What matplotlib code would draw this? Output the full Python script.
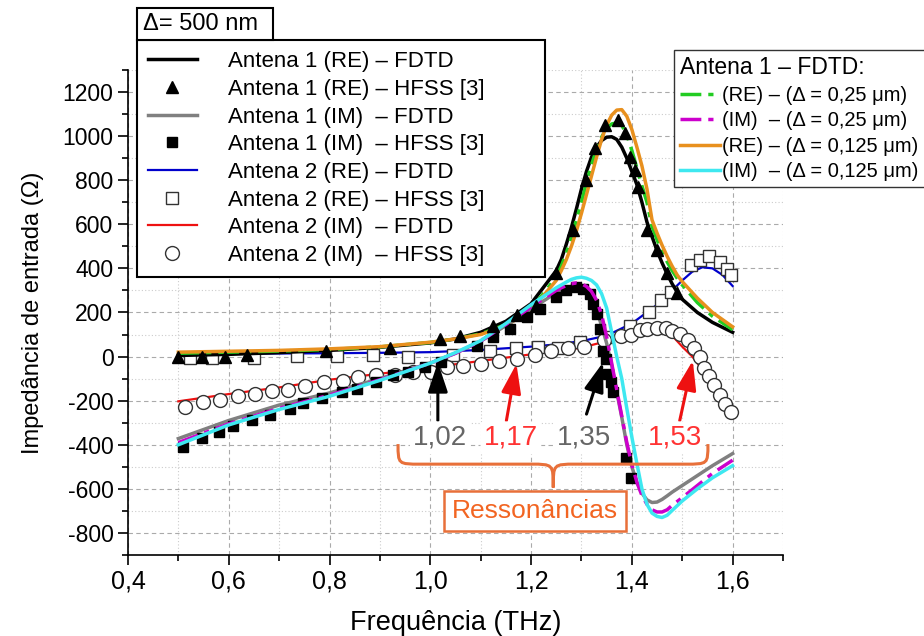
import numpy as np
import matplotlib.pyplot as plt
from matplotlib.path import Path
from matplotlib.patches import PathPatch, Rectangle
from matplotlib.ticker import MultipleLocator, FuncFormatter

plt.rcParams['font.family'] = ['Liberation Sans', 'DejaVu Sans']

# Antena 1 (RE) - FDTD
f_a1 = [0.5, 0.6, 0.7, 0.8, 0.9, 1.0, 1.05, 1.1, 1.15, 1.2, 1.25, 1.26, 1.27, 1.28,
        1.29, 1.3, 1.31, 1.32, 1.33, 1.34, 1.35, 1.36, 1.37, 1.38, 1.39, 1.4, 1.41,
        1.42, 1.43, 1.44, 1.45, 1.46, 1.47, 1.48, 1.49, 1.5, 1.53, 1.56, 1.6]
# malha 500 nm
re_a1 = [5, 10, 18, 28, 42, 62, 80, 110, 160, 240, 390, 440, 510, 585,
         670, 760, 840, 905, 950, 980, 995, 997, 985, 950, 900, 840, 780,
         700, 610, 545, 480, 425, 375, 330, 292, 260, 200, 155, 110]
# delta 0,25 um
re_a1_025 = [15, 20, 25, 32, 44, 64, 80, 103, 145, 215, 360, 410, 470, 540,
             620, 700, 790, 870, 940, 995, 1035, 1055, 1060, 1050, 1005, 935, 855,
             775, 700, 590, 530, 475, 430, 390, 355, 325, 245, 183, 122]
# delta 0,125 um
re_a1_0125 = [20, 24, 28, 35, 45, 65, 80, 100, 140, 210, 345, 390, 440, 500,
              570, 650, 735, 820, 905, 985, 1050, 1095, 1118, 1120, 1090, 1030, 950,
              865, 760, 620, 560, 505, 455, 410, 370, 340, 265, 200, 135]

# Antena 1 (IM) - FDTD
f_im = [0.5, 0.6, 0.7, 0.8, 0.9, 1.0, 1.05, 1.1, 1.15, 1.2, 1.25, 1.26, 1.27, 1.28,
        1.29, 1.3, 1.31, 1.32, 1.33, 1.34, 1.35, 1.36, 1.37, 1.38, 1.39, 1.4, 1.41,
        1.42, 1.43, 1.44, 1.45, 1.46, 1.47, 1.48, 1.5, 1.53, 1.56, 1.6]
im_a1 = [-372, -290, -220, -165, -100, -30, 15, 70, 140, 215, 290, 302, 312, 318,
         320, 312, 292, 260, 210, 140, 60, -40, -160, -275, -400, -500, -570,
         -620, -650, -662, -660, -648, -632, -615, -585, -540, -495, -440]
im_a1_025 = [-390, -305, -235, -175, -105, -30, 15, 70, 145, 225, 300, 312, 322, 330,
             334, 330, 318, 295, 255, 190, 90, -30, -150, -270, -390, -490, -570,
             -630, -670, -695, -705, -705, -695, -675, -640, -585, -530, -470]
im_a1_0125 = [-400, -310, -240, -180, -108, -30, 18, 72, 150, 235, 312, 325, 338, 350,
              357, 360, 355, 345, 325, 285, 220, 110, 0, -100, -235, -365, -485,
              -600, -670, -710, -725, -730, -720, -698, -655, -600, -550, -495]

# Antena 1 - HFSS [3]
f_tri = [0.5, 0.547, 0.593, 0.636, 0.793, 0.92, 1.02, 1.058, 1.124, 1.173, 1.21,
         1.25, 1.283, 1.31, 1.326, 1.346, 1.372, 1.386, 1.396, 1.406, 1.412, 1.43,
         1.45, 1.469, 1.489]
re_tri = [0, 0, 0, 5, 25, 40, 80, 95, 140, 190, 230,
          380, 573, 800, 945, 1050, 1073, 1013, 905, 845, 768, 573,
          482, 377, 290]
f_sq = [0.51, 0.546, 0.581, 0.609, 0.647, 0.682, 0.721, 0.748, 0.786, 0.824, 0.854,
        0.892, 0.926, 0.956, 0.989, 1.022, 1.092, 1.125, 1.158, 1.191, 1.217, 1.25,
        1.27, 1.29, 1.303, 1.316, 1.323, 1.33, 1.336, 1.343, 1.349, 1.353, 1.359,
        1.363, 1.389, 1.399]
im_sq = [-412, -371, -341, -317, -286, -265, -238, -212, -188, -162, -147,
         -114, -83, -71, -49, -26, 50, 88, 126, 179, 217, 270,
         300, 315, 308, 285, 240, 194, 126, 27, -11, -79, -117,
         -162, -461, -552]

# Antena 2 - FDTD
f_a2 = [0.5, 0.6, 0.7, 0.8, 0.9, 1.0, 1.1, 1.2, 1.25, 1.3, 1.35, 1.4, 1.45,
        1.48, 1.5, 1.52, 1.54, 1.56, 1.58, 1.6]
re_a2 = [10, 12, 14, 15, 17, 20, 30, 45, 55, 70, 95, 150, 235,
         300, 345, 385, 405, 400, 370, 320]
im_a2 = [-203, -170, -140, -105, -78, -50, -20, 10, 25, 40, 70, 100, 112,
         95, 45, 0, -60, -120, -180, -240]

# Antena 2 - HFSS [3]
f_osq = [0.523, 0.566, 0.65, 0.735, 0.814, 0.886, 0.955, 1.045, 1.118, 1.171, 1.214,
         1.253, 1.297, 1.349, 1.396, 1.435, 1.458, 1.478, 1.518, 1.535, 1.554,
         1.574, 1.589, 1.597]
re_osq = [-7, -7, -7, 4, 4, 9, 0, 5, 27, 41, 45,
          41, 65, 88, 138, 201, 255, 295, 414, 436, 455,
          429, 395, 368]
f_circ = [0.513, 0.549, 0.583, 0.618, 0.652, 0.685, 0.717, 0.752, 0.789, 0.826, 0.856,
          0.892, 0.93, 0.965, 1.001, 1.034, 1.065, 1.101, 1.136, 1.173, 1.207, 1.24,
          1.273, 1.306, 1.344, 1.379, 1.399, 1.416, 1.431, 1.449, 1.467, 1.48, 1.495,
          1.511, 1.524, 1.536, 1.544, 1.553, 1.563, 1.574, 1.584, 1.596]
im_circ = [-227, -208, -196, -177, -169, -155, -150, -132, -117, -109, -94,
           -82, -82, -71, -68, -49, -41, -32, -18, -9, 5, 27,
           38, 42, 73, 95, 100, 121, 126, 130, 130, 115, 103,
           73, 40, -3, -51, -86, -127, -173, -215, -253]

# ressonancias
res_lbl = ['1,02', '1,17', '1,35', '1,53']
res_col = ['#666666', '#FF3333', '#666666', '#FF3333']
arrow_col = ['black', '#EE1111', 'black', '#EE1111']
arrow_tail = [(1.015, -290), (1.151, -291), (1.31, -261), (1.495, -291)]
arrow_tip = [(1.015, -26), (1.171, -33), (1.343, -26), (1.521, -18)]
lbl_x = [1.02, 1.16, 1.305, 1.485]

fig = plt.figure(figsize=(9.24, 6.36), dpi=100)
ax = fig.add_axes([0.1385, 0.1274, 0.7089, 0.7626])

h_a1re, = ax.plot(f_a1, re_a1, color='black', lw=2.5, zorder=5)
h_tri, = ax.plot(f_tri, re_tri, '^', color='black', ms=8, ls='none', zorder=7)
h_a1im, = ax.plot(f_im, im_a1, color='#808080', lw=2.5, zorder=6)
h_sq, = ax.plot(f_sq, im_sq, 's', color='black', ms=7, ls='none', zorder=6.5)
h_a2re, = ax.plot(f_a2, re_a2, color='#0000CC', lw=1.6, zorder=3)
h_osq, = ax.plot(f_osq, re_osq, 's', mfc='white', mec='#333333', mew=1, ms=9,
                 ls='none', zorder=4)
h_a2im, = ax.plot(f_a2, im_a2, color='#EE1111', lw=1.6, zorder=3)
h_circ, = ax.plot(f_circ, im_circ, 'o', mfc='white', mec='#333333', mew=1, ms=10,
                  ls='none', zorder=4)

h_g, = ax.plot(f_a1, re_a1_025, color='#22CC22', lw=2.5, ls=(0, (6, 2, 1.5, 2)), zorder=5.5)
h_m, = ax.plot(f_im, im_a1_025, color='#CC00CC', lw=2.5, ls=(0, (6, 2, 1.5, 2)), zorder=6.6)
h_o, = ax.plot(f_a1, re_a1_0125, color='#E8901E', lw=2.5, zorder=5.6)
h_c, = ax.plot(f_im, im_a1_0125, color='#3EE8F0', lw=2.5, zorder=6.7)

ax.set_xlim(0.4, 1.7)
ax.set_ylim(-900, 1300)
ax.xaxis.set_major_locator(MultipleLocator(0.2))
ax.xaxis.set_minor_locator(MultipleLocator(0.1))
ax.yaxis.set_major_locator(MultipleLocator(200))
ax.yaxis.set_minor_locator(MultipleLocator(100))
ax.xaxis.set_major_formatter(FuncFormatter(lambda v, p: f'{v:.1f}'.replace('.', ',')))
ax.yaxis.set_major_formatter(FuncFormatter(lambda v, p: f'{v:.0f}'))
ax.grid(which='major', color='#AAAAAA', ls=(0, (4, 3)), lw=0.8)
ax.grid(which='minor', color='#CCCCCC', ls=(0, (1, 2)), lw=0.8)
ax.set_axisbelow(True)
for s in ['top', 'right']:
    ax.spines[s].set_visible(False)
ax.spines['left'].set_linewidth(1.2)
ax.spines['bottom'].set_linewidth(1.2)
ax.tick_params(which='major', direction='out', length=7, width=1.2, labelsize=16.5)
ax.tick_params(which='minor', direction='out', length=4, width=1.2)
ax.tick_params(axis='x', labelsize=18)
ax.set_xlabel('Frequência (THz)', fontsize=19.5, labelpad=12)
ax.set_ylabel('Impedância de entrada (Ω)', fontsize=17, labelpad=13)

# legenda principal
leg1 = fig.legend([h_a1re, h_tri, h_a1im, h_sq, h_a2re, h_osq, h_a2im, h_circ],
                  ['Antena 1 (RE) – FDTD', 'Antena 1 (RE) – HFSS [3]',
                   'Antena 1 (IM)  – FDTD', 'Antena 1 (IM)  – HFSS [3]',
                   'Antena 2 (RE) – FDTD', 'Antena 2 (RE) – HFSS [3]',
                   'Antena 2 (IM)  – FDTD', 'Antena 2 (IM)  – HFSS [3]'],
                  loc='upper left', bbox_to_anchor=(0.148, 0.563, 0.442, 0.374),
                  mode='expand', fontsize=16, frameon=True, fancybox=False,
                  edgecolor='black', framealpha=1, handlelength=2.2,
                  handletextpad=1.4, labelspacing=0.3, borderpad=0.5,
                  borderaxespad=0)
leg1.get_frame().set_linewidth(1.5)

# caixa da malha
fig.patches.append(Rectangle((0.1483, 0.937), 0.1472, 0.050, transform=fig.transFigure,
                             fc='white', ec='black', lw=1.5, zorder=10))
fig.text(0.155, 0.962, 'Δ= 500 nm', fontsize=17, ha='left', va='center', zorder=11)

# legenda das malhas
leg2 = fig.legend([h_g, h_m, h_o, h_c],
                  ['(RE) – (Δ = 0,25 μm)', '(IM)  – (Δ = 0,25 μm)',
                   '(RE) – (Δ = 0,125 μm)', '(IM)  – (Δ = 0,125 μm)'],
                  title='Antena 1 – FDTD:', title_fontsize=16.5, alignment='left',
                  loc='upper left', bbox_to_anchor=(0.729, 0.701, 0.30, 0.22),
                  mode='expand', fontsize=14.5,
                  frameon=True, fancybox=False, edgecolor='#333333', framealpha=1,
                  handlelength=2.0, handletextpad=0.1, labelspacing=0.32,
                  borderpad=0.3, borderaxespad=0)
leg2.get_frame().set_linewidth(1.0)

# setas das ressonancias
for tail, tip, c in zip(arrow_tail, arrow_tip, arrow_col):
    ax.annotate('', xy=tip, xytext=tail,
                arrowprops=dict(arrowstyle='-|>,head_length=1.8,head_width=0.6',
                                color=c, lw=2.2, shrinkA=0, shrinkB=0), zorder=9)
for x, t, c in zip(lbl_x, res_lbl, res_col):
    ax.text(x, -368, t, color=c, fontsize=20, ha='center', va='center', zorder=9,
            bbox=dict(boxstyle='round,pad=0.12', fc='white', ec='none'))

# chave
x0, x1, xc = 0.936, 1.551, 1.244
yt, ym, yb = -397, -488, -594
r = 0.045
verts = [(x0, yt), (x0, ym), (x0, ym), (x0 + r, ym),
         (xc - r, ym),
         (xc, ym), (xc, ym), (xc, yb),
         (xc, ym), (xc, ym), (xc + r, ym),
         (x1 - r, ym),
         (x1, ym), (x1, ym), (x1, yt)]
codes = [Path.MOVETO, Path.CURVE4, Path.CURVE4, Path.CURVE4,
         Path.LINETO,
         Path.CURVE4, Path.CURVE4, Path.CURVE4,
         Path.CURVE4, Path.CURVE4, Path.CURVE4,
         Path.LINETO,
         Path.CURVE4, Path.CURVE4, Path.CURVE4]
ax.add_patch(PathPatch(Path(verts, codes), fc='none', ec='#E8703A', lw=2.2, zorder=8))
ax.text(1.207, -700, 'Ressonâncias', color='#F26522', fontsize=19, ha='center',
        va='center', zorder=9,
        bbox=dict(boxstyle='square,pad=0.3', fc='white', ec='#E8703A', lw=1.8))

fig.savefig('out.png', dpi=100)
